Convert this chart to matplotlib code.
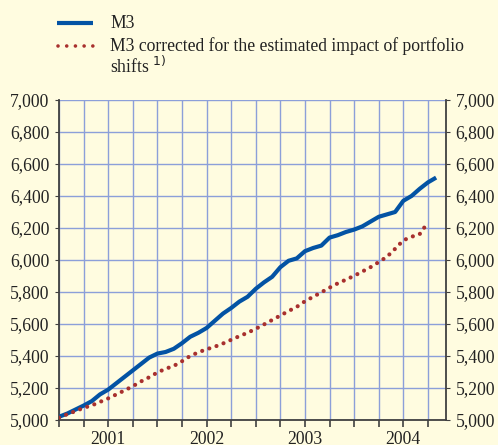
import numpy as np
import matplotlib.pyplot as plt
from matplotlib.lines import Line2D
from matplotlib.ticker import FuncFormatter, MultipleLocator

# monthly data, Jan 2001 = month 0
m3 = [5020, 5040, 5065, 5090, 5118, 5160, 5190, 5230, 5270, 5310,
      5350, 5390, 5415, 5425, 5445, 5480, 5520, 5545, 5575, 5620,
      5665, 5700, 5740, 5770, 5820, 5860, 5895, 5955, 5995, 6010,
      6055, 6075, 6090, 6140, 6155, 6175, 6190, 6210, 6240, 6270,
      6285, 6300, 6370, 6400, 6445, 6485, 6515]
m3_corrected = [5015, 5036, 5055, 5076, 5091, 5113, 5135, 5160, 5185, 5211,
                5241, 5267, 5297, 5320, 5338, 5367, 5400, 5423, 5442, 5458,
                5478, 5501, 5524, 5545, 5570, 5597, 5625, 5653, 5681, 5707,
                5742, 5770, 5798, 5827, 5854, 5877, 5901, 5928, 5955, 5987,
                6020, 6070, 6123, 6145, 6162, 6235]
years = ['2001', '2002', '2003', '2004']

BG = '#FFFCE0'
GRID = '#8C9FD9'
BLUE = '#0353A4'
RED = '#A8302E'
DARK = '#404040'

plt.rcParams['font.family'] = ['Liberation Serif', 'DejaVu Serif']

fig = plt.figure(figsize=(4.98, 4.45), dpi=100, facecolor=BG)
ax = fig.add_axes([0.1185, 0.0562, 0.777, 0.7191], facecolor=BG)

ax.plot(range(len(m3)), m3, color=BLUE, lw=3.0, solid_capstyle='butt', zorder=3)
ax.plot(range(len(m3_corrected)), m3_corrected, color=RED, lw=3.0,
        linestyle=(0, (0.01, 1.8)), dash_capstyle='round', zorder=3)

ax.set_xlim(0, 47.2)
ax.set_ylim(5000, 7000)
ax.yaxis.set_major_locator(MultipleLocator(200))
ax.yaxis.set_major_formatter(FuncFormatter(lambda v, p: f'{int(v):,}'))
ax.tick_params(axis='y', which='both', direction='out', length=3, color=DARK,
               labelsize=12.7, labelcolor='#222222', left=True, right=True,
               labelleft=True, labelright=True, pad=4)

# quarterly ticks, year labels in the middle of each year
ax.xaxis.remove_overlapping_locs = False
ax.set_xticks(np.arange(0, 47, 3))
ax.set_xticklabels([])
ax.set_xticks([6, 18, 30, 42], minor=True)
ax.set_xticklabels(years, minor=True)
ax.tick_params(axis='x', which='major', direction='out', length=5, width=1.2, color=DARK)
ax.tick_params(axis='x', which='minor', length=0, labelsize=12.7,
               labelcolor='#222222', pad=8)

ax.grid(True, which='major', color=GRID, lw=1.0)
for s in ['left', 'right', 'bottom']:
    ax.spines[s].set_color(DARK)
    ax.spines[s].set_linewidth(1.3)
ax.spines['top'].set_visible(False)

# legend
fig.add_artist(Line2D([57 / 498, 93 / 498], [1 - 23 / 445, 1 - 23 / 445],
                      color=BLUE, lw=3.0, solid_capstyle='butt'))
fig.add_artist(Line2D([58 / 498, 93 / 498], [1 - 46 / 445, 1 - 46 / 445],
                      color=RED, lw=2.6, linestyle=(0, (0.01, 2.4)),
                      dash_capstyle='round'))
fig.text(110 / 498, 1 - 24 / 445, 'M3', fontsize=12.7, color='#222222', va='center')
fig.text(110 / 498, 1 - 46 / 445, 'M3 corrected for the estimated impact of portfolio',
         fontsize=12.7, color='#222222', va='center')
fig.text(110 / 498, 1 - 66 / 445, 'shifts $^{1)}$', fontsize=12.7, color='#222222',
         va='center')

fig.savefig('out.png', dpi=100, facecolor=BG)
